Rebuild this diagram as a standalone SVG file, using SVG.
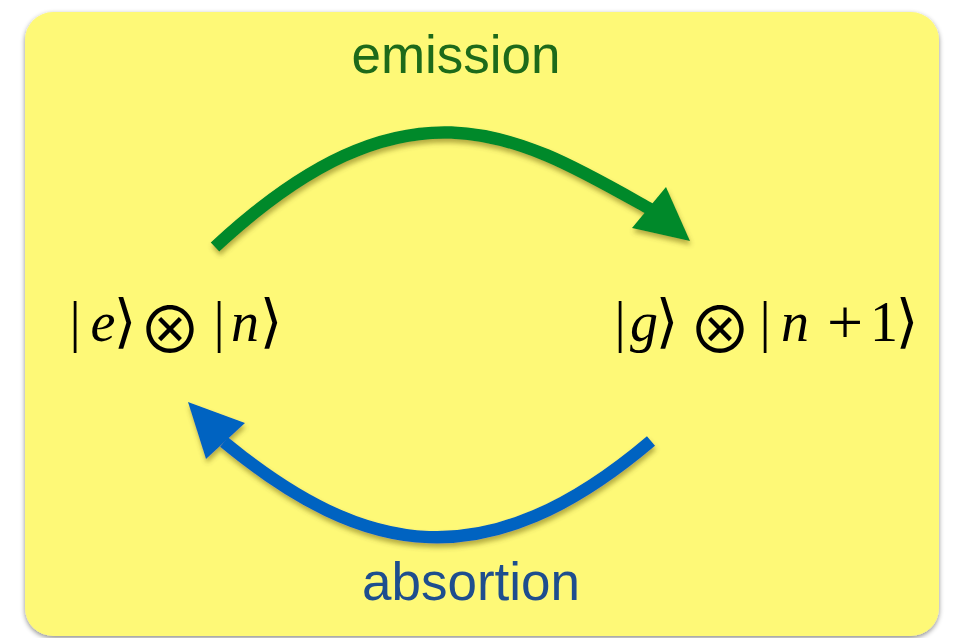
<svg xmlns="http://www.w3.org/2000/svg" width="954" height="638" viewBox="0 0 954 638">
<defs>
<filter id="boxShadow" x="-5%" y="-5%" width="110%" height="110%">
<feDropShadow dx="0" dy="2" stdDeviation="2.5" flood-color="#000" flood-opacity="0.45"/>
</filter>
<filter id="arrowShadow" x="-10%" y="-10%" width="120%" height="130%">
<feDropShadow dx="1" dy="4" stdDeviation="2.5" flood-color="#5a5000" flood-opacity="0.45"/>
</filter>
<style>
.math{font-family:"Liberation Serif","DejaVu Serif",serif;font-size:56px;fill:#000;text-anchor:middle}
.it{font-style:italic}
.ot{font-family:"Noto Sans CJK JP",sans-serif;font-size:64px}
.plus{font-size:64px}
.ang{font-family:"DejaVu Serif",serif;font-size:58px}
.label{font-family:"Liberation Sans",Arial,sans-serif;font-size:53px;text-anchor:middle}
.shaft{fill:none;stroke-width:12.5;stroke-linecap:butt}
</style>
</defs>
<rect x="25" y="12" width="914" height="624" rx="28" ry="28" fill="#FEF977" filter="url(#boxShadow)"/>
<g id="connectors">
<g id="emission" filter="url(#arrowShadow)">
<path class="shaft" stroke="#02892B" d="M215,247 C410,66 520,136 650,209"/>
<polygon fill="#02892B" points="690,241 666,187 632,228"/>
</g>
<g id="absorption" filter="url(#arrowShadow)">
<path class="shaft" stroke="#0563C1" d="M651,441 C487,580 365,558 224,442"/>
<polygon fill="#0563C1" points="188,402 245,423 206,459"/>
</g>
<text class="label" x="456" y="73" fill="#1D6A1A">emission</text>
<text class="label" x="471" y="600" fill="#1E4E8E">absortion</text>
</g>
<g id="node-e-n">
<text class="math" y="341"><tspan x="75">|</tspan><tspan class="it" x="103">e</tspan><tspan class="ang" x="125">⟩</tspan><tspan class="ot" x="170" y="353">⊗</tspan><tspan x="219" y="341">|</tspan><tspan class="it" x="245">n</tspan><tspan class="ang" x="271">⟩</tspan></text>
</g>
<g id="node-g-n1">
<text class="math" y="341"><tspan x="620">|</tspan><tspan class="it" x="644">g</tspan><tspan class="ang" x="667">⟩</tspan><tspan class="ot" x="720" y="353">⊗</tspan><tspan x="765" y="341">|</tspan><tspan class="it" x="795">n</tspan><tspan class="plus" x="845" y="344">+</tspan><tspan x="884" y="341">1</tspan><tspan class="ang" x="907">⟩</tspan></text>
</g>
</svg>
